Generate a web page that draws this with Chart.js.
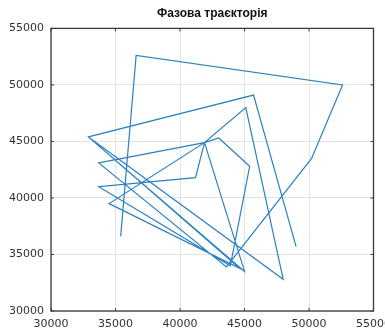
<!DOCTYPE html>
<html>
<head>
<meta charset="utf-8">
<script src="https://cdn.jsdelivr.net/npm/chart.js@4.4.1/dist/chart.umd.min.js"></script>
<style>
  html, body { margin: 0; padding: 0; background: #fff; overflow: hidden; }
  #wrap { width: 398px; height: 331px; }
</style>
</head>
<body>
<div id="wrap"><canvas id="c" width="398" height="331"></canvas></div>
<script>
// Phase trajectory: successive states (x, y) joined in order
const stateX = [35400, 36600, 52600, 50200, 43600, 33700, 41900, 43000, 45400, 43900,
                33700, 41200, 41900, 45100, 48000, 32900, 44600, 34500, 41900, 45000,
                32900, 45700, 49000];
const stateY = [36600, 52600, 50000, 43500, 33900, 43100, 44900, 45300, 42800, 34000,
                41000, 41800, 44900, 48000, 32800, 45400, 33800, 39500, 44900, 33500,
                45400, 49100, 35700];

const axisMin = 30000;
const axisMax = 55000;
const axisStep = 5000;
const titleText = 'Фазова траєкторія';

const points = stateX.map((x, i) => ({ x: x, y: stateY[i] }));

// Box around the plot area with short inward tick marks
const boxPlugin = {
  id: 'boxTicks',
  afterDraw(chart) {
    const { ctx, chartArea: a, scales } = chart;
    ctx.save();
    ctx.strokeStyle = '#3a3a3a';
    ctx.lineWidth = 1.3;
    ctx.strokeRect(a.left, a.top, a.right - a.left, a.bottom - a.top);
    ctx.lineWidth = 1;
    const len = 3;
    scales.x.ticks.forEach(t => {
      const px = scales.x.getPixelForValue(t.value);
      ctx.beginPath();
      ctx.moveTo(px, a.bottom); ctx.lineTo(px, a.bottom - len);
      ctx.moveTo(px, a.top); ctx.lineTo(px, a.top + len);
      ctx.stroke();
    });
    scales.y.ticks.forEach(t => {
      const py = scales.y.getPixelForValue(t.value);
      ctx.beginPath();
      ctx.moveTo(a.left, py); ctx.lineTo(a.left + len, py);
      ctx.moveTo(a.right, py); ctx.lineTo(a.right - len, py);
      ctx.stroke();
    });
    ctx.restore();
  }
};

new Chart(document.getElementById('c'), {
  type: 'scatter',
  data: {
    datasets: [{
      data: points,
      showLine: true,
      borderColor: '#2b80bf',
      borderWidth: 1.2,
      pointRadius: 0,
      fill: false,
      tension: 0
    }]
  },
  options: {
    responsive: false,
    animation: false,
    layout: { padding: 0 },
    plugins: {
      legend: { display: false },
      tooltip: { enabled: false },
      title: {
        display: true,
        fullSize: false,
        text: titleText,
        color: '#111',
        font: { family: 'Liberation Sans', size: 12, weight: 'bold' },
        padding: { top: 6, bottom: 8 }
      }
    },
    scales: {
      x: {
        type: 'linear',
        min: axisMin, max: axisMax,
        ticks: {
          stepSize: axisStep,
          color: '#333',
          font: { family: 'DejaVu Sans', size: 11 },
          padding: 7,
          maxRotation: 0,
          callback: v => String(v)
        },
        grid: { color: '#e3e3e3', lineWidth: 1, drawTicks: false },
        border: { display: false },
        afterFit(scale) { scale.height = 20; }
      },
      y: {
        type: 'linear',
        min: axisMin, max: axisMax,
        ticks: {
          stepSize: axisStep,
          color: '#333',
          font: { family: 'DejaVu Sans', size: 11 },
          padding: 7,
          callback: v => String(v)
        },
        grid: { color: '#e3e3e3', lineWidth: 1, drawTicks: false },
        border: { display: false },
        afterFit(scale) { scale.width = 51; }
      }
    }
  },
  plugins: [boxPlugin]
});
</script>
</body>
</html>
